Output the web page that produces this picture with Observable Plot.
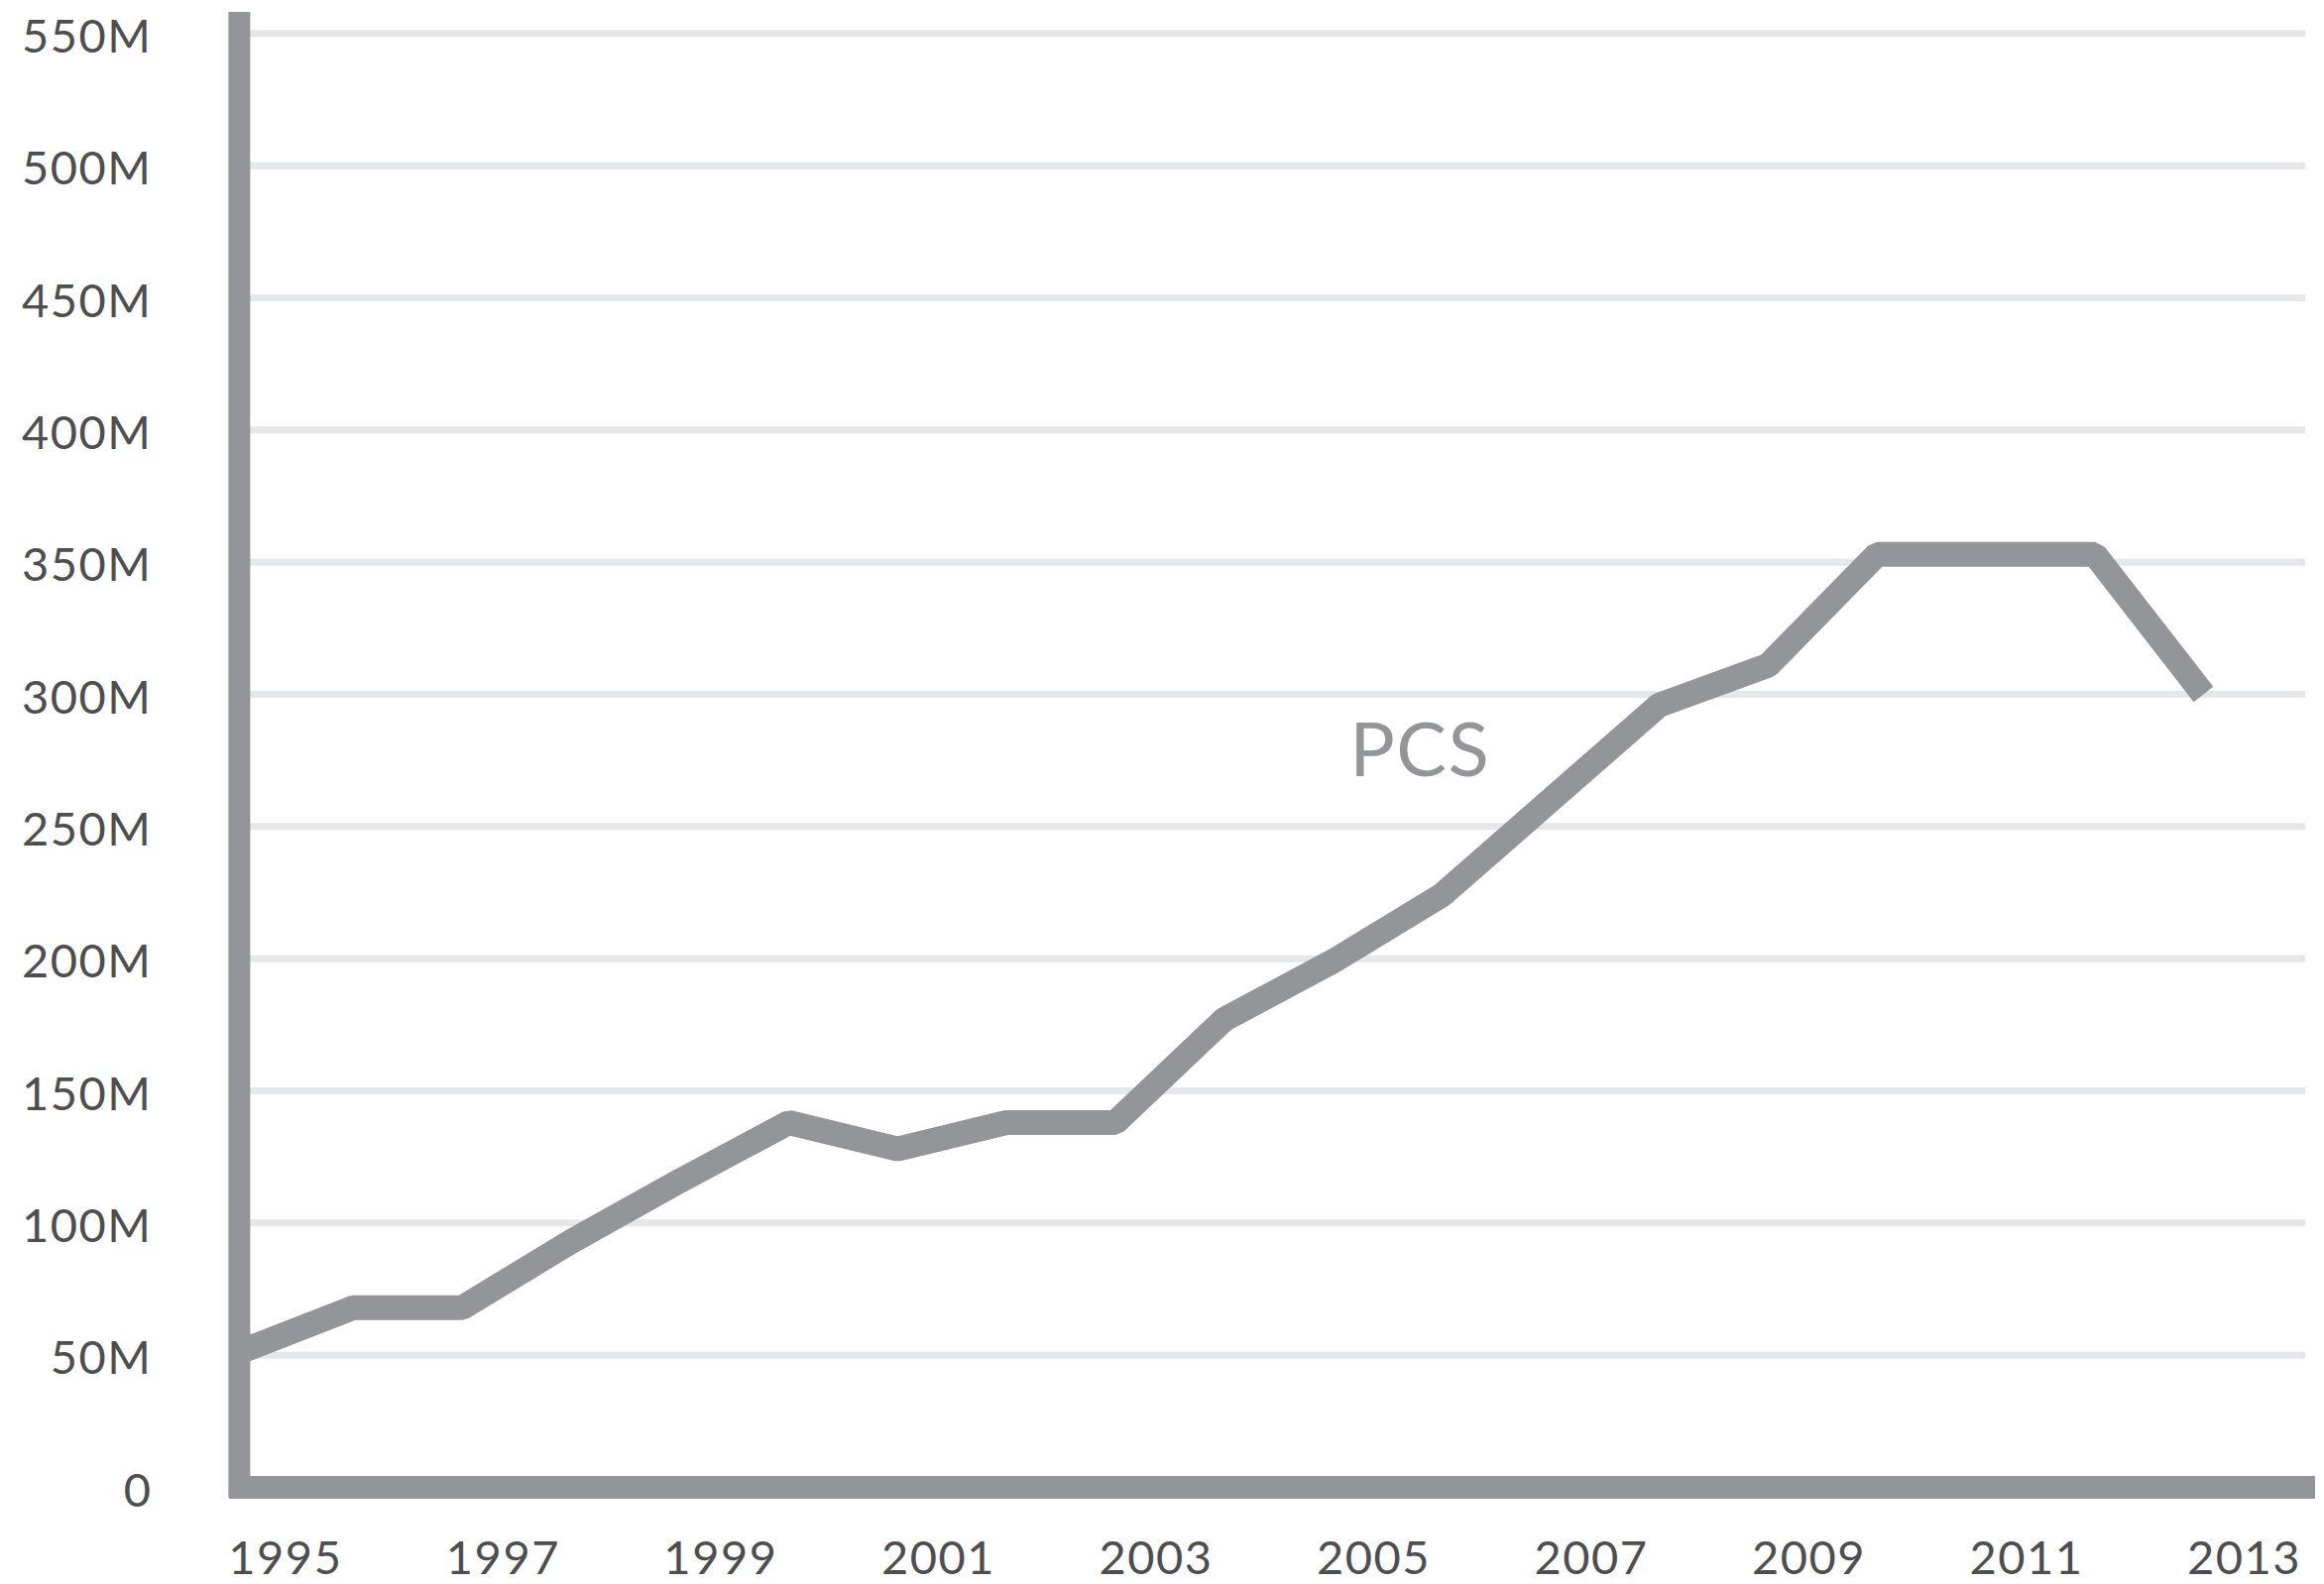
<!DOCTYPE html>
<html>
<head>
<meta charset="utf-8">
<script src="https://cdn.jsdelivr.net/npm/d3@7"></script>
<script src="https://cdn.jsdelivr.net/npm/@observablehq/plot@0.6"></script>
<style>
  html, body { margin: 0; padding: 0; background: #ffffff; }
  #chart svg { display: block; }
</style>
</head>
<body>
<div id="chart"></div>
<script>
// ---- data (millions of units) ----
const years = [1995, 1996, 1997, 1998, 1999, 2000, 2001, 2002, 2003, 2004,
               2005, 2006, 2007, 2008, 2009, 2010, 2011, 2012, 2013];
const pcs   = [52, 68, 68, 93, 116, 138, 128, 138, 138, 177,
               199, 224, 260, 296, 311, 353, 353, 353, 300];
const yTicks = [0, 50, 100, 150, 200, 250, 300, 350, 400, 450, 500, 550];
const xTicks = [1995, 1997, 1999, 2001, 2003, 2005, 2007, 2009, 2011, 2013];
const seriesNames = ["PCS"];
const seriesLabelYear = [2005.8];
const seriesLabelValue = [278];

const data = years.map((year, i) => ({year, value: pcs[i]}));
const labels = seriesNames.map((text, i) => ({text, year: seriesLabelYear[i], value: seriesLabelValue[i]}));

const gray = "#939598";

const chart = Plot.plot({
  width: 2344,
  height: 1598,
  marginLeft: 231,
  marginRight: 9,
  marginTop: 12,
  marginBottom: 98,
  x: {domain: [1994.86, 2014.03], label: null},
  y: {domain: [0, 558], label: null},
  style: {fontFamily: "Lato, sans-serif", fontSize: "47px", color: "#4e4e50", background: "#ffffff", letterSpacing: "1.5px"},
  marks: [
    Plot.ruleY(yTicks.filter(d => d > 0), {x1: 1994.95, x2: 2013.94, stroke: "#e6e7e8", strokeWidth: 7}),
    Plot.line(data, {x: "year", y: "value", stroke: gray, strokeWidth: 25, strokeLinejoin: "miter", strokeLinecap: "butt"}),
    Plot.ruleX([1994.95], {y1: -4, y2: 558, stroke: gray, strokeWidth: 22}),
    Plot.ruleY([0], {stroke: gray, strokeWidth: 23}),
    Plot.text(labels, {x: "year", y: "value", text: "text", fill: gray, fontSize: 76, textAnchor: "middle", lineAnchor: "middle", style: "letter-spacing: 4px"}),
    Plot.axisY({ticks: yTicks, tickFormat: d => d === 0 ? "0" : d + "M", tickSize: 0, tickPadding: 78, dy: 4, label: null}),
    Plot.axisX({ticks: xTicks, tickFormat: d => String(d), tickSize: 0, tickPadding: 54, dx: 41, label: null})
  ]
});
document.getElementById("chart").append(chart);
</script>
</body>
</html>
